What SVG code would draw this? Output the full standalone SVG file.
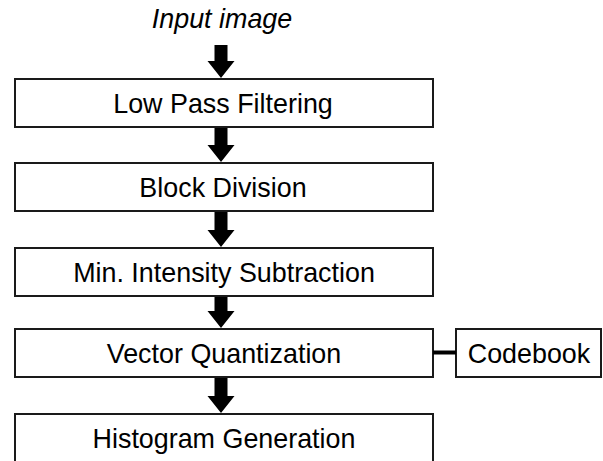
<svg xmlns="http://www.w3.org/2000/svg" width="603" height="461" viewBox="0 0 603 461">
<style>
.box{fill:#fff;stroke:#1a1a1a;stroke-width:2}
.lbl{font-family:"Liberation Sans",Arial,sans-serif;font-size:28px;fill:#000;text-anchor:middle}
.arr{fill:#000}
</style>
<rect width="603" height="461" fill="#fff"/>
<text class="lbl" transform="translate(222,28) scale(0.96,1)" font-style="italic">Input image</text>
<g id="lowpass"><rect class="box" x="15" y="79" width="418" height="48"/><text class="lbl" transform="translate(223,113) scale(0.96,1)">Low Pass Filtering</text></g>
<g id="block"><rect class="box" x="15" y="163" width="418" height="48"/><text class="lbl" transform="translate(223,197) scale(0.96,1)">Block Division</text></g>
<g id="minint"><rect class="box" x="15" y="248" width="418" height="48"/><text class="lbl" transform="translate(224,282) scale(0.96,1)">Min. Intensity Subtraction</text></g>
<g id="vq"><rect class="box" x="15" y="329" width="418" height="48"/><text class="lbl" transform="translate(224,363) scale(0.96,1)">Vector Quantization</text></g>
<g id="hist"><rect class="box" x="15" y="414" width="418" height="52"/><text class="lbl" transform="translate(224,448) scale(0.96,1)">Histogram Generation</text></g>
<g id="codebook"><rect class="box" x="456" y="329" width="145" height="48"/><text class="lbl" transform="translate(529,363) scale(0.96,1)">Codebook</text></g>
<g id="connectors">
<path class="arr" d="M214.5 45H227.5V61H234.5L221 78L207.5 61H214.5Z"/>
<path class="arr" d="M214.5 128H227.5V145H234.5L221 162L207.5 145H214.5Z"/>
<path class="arr" d="M214.5 212H227.5V230H234.5L221 247L207.5 230H214.5Z"/>
<path class="arr" d="M214.5 297H227.5V311H234.5L221 328L207.5 311H214.5Z"/>
<path class="arr" d="M214.5 378H227.5V396H234.5L221 413L207.5 396H214.5Z"/>
<line x1="433" y1="352.5" x2="456" y2="352.5" stroke="#000" stroke-width="4"/>
</g>
</svg>
